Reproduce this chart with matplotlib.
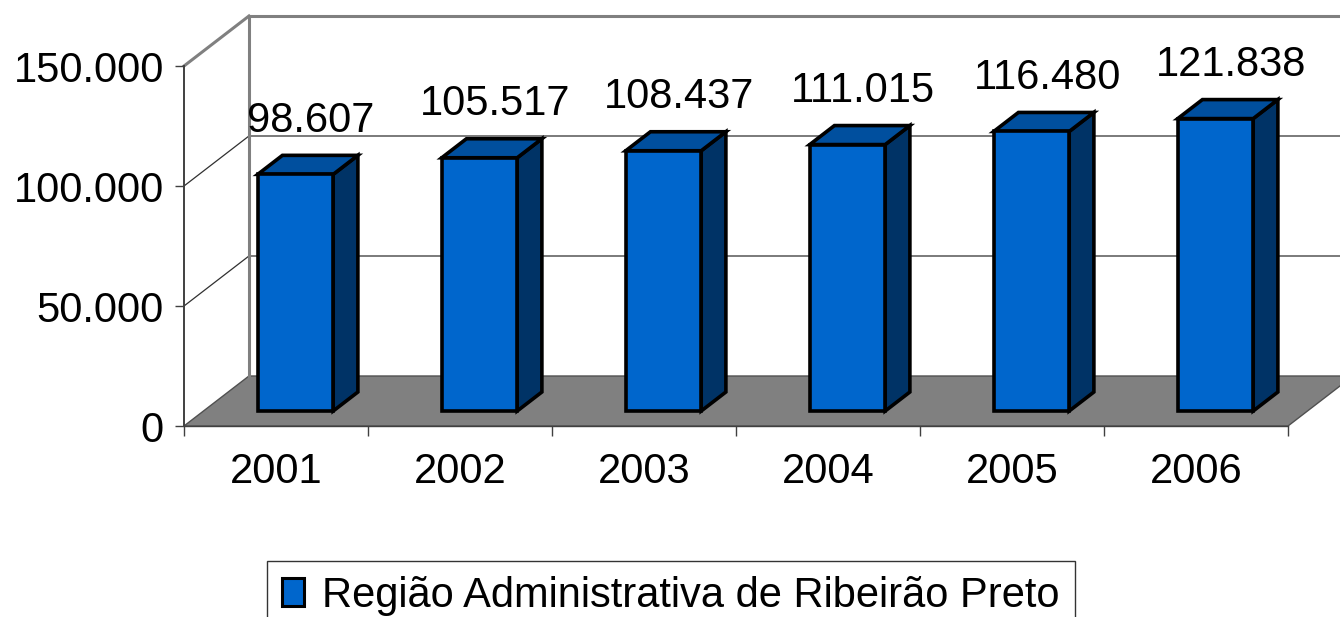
import numpy as np
import matplotlib
matplotlib.use("Agg")
import matplotlib.pyplot as plt
from matplotlib.patches import Polygon, Patch

plt.rcParams['font.family'] = ['Liberation Sans', 'DejaVu Sans']

years = ['2001', '2002', '2003', '2004', '2005', '2006']
values = [98607, 105517, 108437, 111015, 116480, 121838]
yticks = [0, 50000, 100000, 150000]
series_name = 'Região Administrativa de Ribeirão Preto'

def fmt(v):
    return f"{v:,.0f}".replace(',', '.')

# fake 3d: depth offset of the back wall in data units
ox, oy = 0.353, 20833
ymax = 150000
ncat = len(years)
d0, dd = 0.3, 0.38       # bar front depth, bar depth
bw = 0.41                # bar width (category units)
fs = 30

fig = plt.figure(figsize=(13.4, 6.17), dpi=100)
ax = fig.add_axes([184/1340, 191/617, 1104/1340, 360/617])
ax.set_xlim(0, ncat)
ax.set_ylim(0, ymax)
ax.patch.set_visible(False)

grey = '#808080'
# floor
floor = Polygon([(0, 0), (ncat, 0), (ncat + ox, oy), (ox, oy)], closed=True,
                facecolor=grey, edgecolor='#505050', lw=1, zorder=1, clip_on=False)
ax.add_patch(floor)
# back wall edges
ax.plot([ox, ox], [oy, ymax + oy], color=grey, lw=2.2, zorder=1.5, clip_on=False)
ax.plot([ox, ncat + ox], [ymax + oy, ymax + oy], color=grey, lw=2.2, zorder=1.5, clip_on=False)
ax.plot([0, ox], [ymax, ymax + oy], color=grey, lw=2.2, zorder=1.5, clip_on=False)
# gridlines on left and back wall
for v in yticks[1:-1]:
    ax.plot([0, ox, ncat + ox], [v, v + oy, v + oy], color='#303030', lw=0.9,
            zorder=1.2, clip_on=False)

front_c, top_c, side_c = '#0066CC', '#004F9E', '#003366'
for i, v in enumerate(values):
    x0 = i + 0.5 - bw / 2 + d0 * ox
    x1 = x0 + bw
    yb = d0 * oy
    yt = yb + v
    dx, dy = dd * ox, dd * oy
    kw = dict(closed=True, edgecolor='black', lw=2.6, joinstyle='miter',
              zorder=3, clip_on=False)
    ax.add_patch(Polygon([(x1, yb), (x1 + dx, yb + dy), (x1 + dx, yt + dy), (x1, yt)],
                         facecolor=side_c, **kw))
    ax.add_patch(Polygon([(x0, yt), (x1, yt), (x1 + dx, yt + dy), (x0 + dx, yt + dy)],
                         facecolor=top_c, **kw))
    ax.add_patch(Polygon([(x0, yb), (x1, yb), (x1, yt), (x0, yt)],
                         facecolor=front_c, **kw))
    ax.text(i + 0.5 + d0 * ox + 0.085, v + 24000, fmt(v), ha='center', va='baseline',
            fontsize=fs, color='black', zorder=4, clip_on=False)

# axes
for s in ['top', 'right']:
    ax.spines[s].set_visible(False)
ax.spines['left'].set_color('#404040')
ax.spines['left'].set_linewidth(1.4)
ax.spines['bottom'].set_color('#404040')
ax.spines['bottom'].set_linewidth(1.0)
ax.spines['left'].set_zorder(2)
ax.spines['bottom'].set_zorder(2)

ax.set_yticks(yticks)
ax.set_yticklabels([fmt(v) for v in yticks])
ax.tick_params(axis='y', direction='out', length=6.5, width=1, color='#404040',
               pad=8, labelsize=fs)
ax.set_xticks(np.arange(ncat + 1))
ax.set_xticklabels([''] * (ncat + 1))
ax.set_xticks(np.arange(ncat) + 0.5, minor=True)
ax.set_xticklabels(years, minor=True)
ax.tick_params(axis='x', which='major', direction='out', length=7.5, width=1, color='#404040')
ax.tick_params(axis='x', which='minor', length=0, pad=19, labelsize=fs)

leg = fig.legend(handles=[Patch(facecolor=front_c, edgecolor='black', lw=2.2)],
                 labels=[series_name], loc='upper left',
                 bbox_to_anchor=(267/1340, 1 - 561/617), fontsize=fs,
                 frameon=True, fancybox=False, borderaxespad=0,
                 handlelength=0.53, handleheight=0.65, handletextpad=0.45,
                 borderpad=0.35)
leg.get_frame().set_edgecolor('black')
leg.get_frame().set_linewidth(1)

fig.savefig('out.png', dpi=100, facecolor='white')
